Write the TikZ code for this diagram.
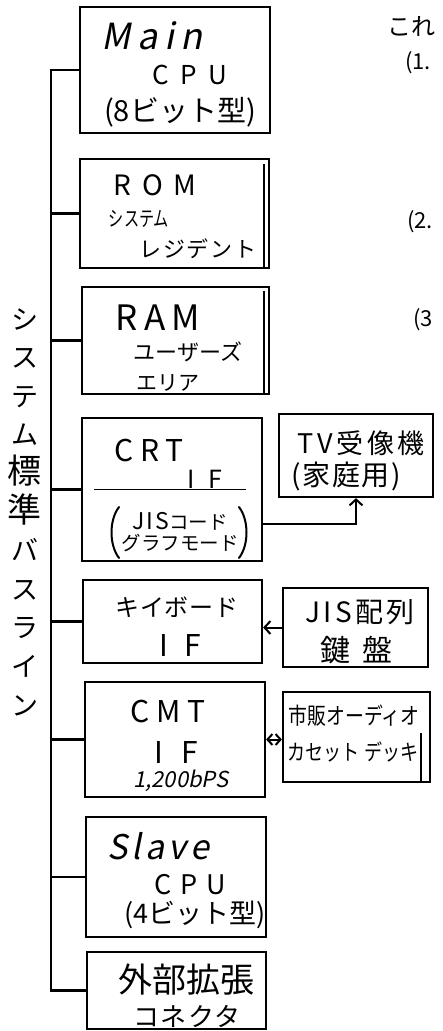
\documentclass[tikz,border=0pt]{standalone}
\usepackage{fontspec}
\setmainfont{Noto Sans CJK JP}
\newfontfamily\slnt[FakeSlant=0.2]{Noto Sans CJK JP}
\newfontfamily\jpnarrowA[FakeStretch=0.82]{Noto Sans CJK JP}
\newfontfamily\jpnarrowB[FakeStretch=0.72]{Noto Sans CJK JP}
\usetikzlibrary{arrows.meta}
\newcommand\fsz[1]{\fontsize{#1}{#1}\selectfont}
\newcommand\lsp[1]{\addfontfeature{LetterSpace=#1}}
\newcommand\mkbox[5]{\node[box, minimum width={(#4-#2)*1pt}, minimum height={(#5-#3)*1pt}] (#1) at ({(#2+#4)/2},{(#3+#5)/2}) {};}
\tikzset{
  box/.style={draw, line width=2.2pt, inner sep=0pt, rectangle},
  txt/.style={inner sep=0pt, anchor=center},
  wire/.style={line width=2.2pt, line join=miter},
  paren/.style={line width=2pt, line cap=round},
  arr/.style={line width=2pt, -{Straight Barb[length=6pt,width=13pt,line width=2pt]}},
  darr/.style={line width=2pt, {Straight Barb[length=5pt,width=11pt,line width=2pt]}-{Straight Barb[length=5pt,width=11pt,line width=2pt]}},
}
\begin{document}
\begin{tikzpicture}[x=1pt,y=-1pt]
\useasboundingbox (0,0) rectangle (443,1031);
% boxes
\mkbox{main}{80}{7}{270}{133}
\mkbox{rom}{80}{159}{269}{268}
\mkbox{ram}{82}{287}{269}{394}
\mkbox{crt}{82}{418}{262}{561}
\mkbox{tv}{279}{414}{433}{497}
\mkbox{kb}{83}{580}{262}{663}
\mkbox{jis}{283}{588}{428}{667}
\mkbox{cmt}{85}{682}{265}{797}
\mkbox{cas}{283}{692}{430}{782}
\mkbox{slave}{86}{817}{266}{937}
\mkbox{ext}{87}{952}{266}{1029}
% double right edges
\draw[line width=1.8pt] ([xshift=-6pt,yshift=-6pt]rom.north east) -- ([xshift=-6pt]rom.south east);
\draw[line width=1.8pt] ([xshift=-6pt,yshift=-5pt]ram.north east) -- ([xshift=-6pt]ram.south east);
\draw[line width=1.8pt] ([xshift=-10pt,yshift=-42pt]cas.north east) -- ([xshift=-10pt]cas.south east);
% CRT divider
\draw[line width=1.8pt] ([xshift=13pt]crt.west) -- ([xshift=-17pt]crt.east);
% bus
\coordinate (bus) at (51,0);
\draw[wire] (main.west) -| (bus |- ext.west) -- (ext.west);
\foreach \b in {rom,ram,crt,kb,cmt,slave}{\draw[wire] (\b.west) -- (\b.west -| bus);}
% connectors
\draw[arr] ([yshift=-34.5pt]crt.east) -| (tv.south);
\draw[arr] (jis.west) -- (jis.west -| kb.east);
\draw[darr] (cmt.east) -- (cmt.east -| cas.west);
% texts
\node[txt, font={\slnt\fsz{36}\lsp{18}}] (t1) at (152,36) {Main};
\node[txt, font={\fsz{26}\lsp{45}}] (t2) at (190,75) {CPU};
\node[txt, font={\fsz{29}}] (t3) at (180,112) {(8ビット型)};
\node[txt, font={\fsz{28}\lsp{38}}] (t4) at (155,185) {ROM};
\node[txt, font={\jpnarrowB\fsz{21}}] (t5) at (139,219) {システム};
\node[txt, font={\fsz{22}\lsp{8}}] (t6) at (198,249) {レジデント};
\node[txt, font={\fsz{35}\lsp{18}}] (t7) at (158,318) {RAM};
\node[txt, font={\fsz{22}}] (t8) at (188,352) {ユーザーズ};
\node[txt, font={\fsz{21}}] (t9) at (168,383) {エリア};
\node[txt, font={\fsz{30}\lsp{22}}] (t10) at (149,450) {CRT};
\node[txt, font={\fsz{25}}] (t11) at (205,479) {I\hspace{14pt}F};
\node[txt, font={\fsz{19.5}}, align=center] (t12) at (180,532) {{\fsz{23}\lsp{10}JIS}コード\\[2pt]グラフモード};
\draw[paren] (119,507) .. controls (109,520) and (109,545) .. (119,558);
\draw[paren] (239,507) .. controls (249,520) and (249,545) .. (239,558);
\node[txt, font={\fsz{27}\lsp{14}}] (t13) at (361,443) {TV受像機};
\node[txt, font={\fsz{28}\lsp{6}}] (t14) at (346,476) {(家庭用)};
\node[txt, font={\fsz{24}\lsp{4}}] (t15) at (177,607) {キイボード};
\node[txt, font={\fsz{30}}] (t16) at (180,645) {I\hspace{16pt}F};
\node[txt, font={\fsz{28}\lsp{12}}] (t17) at (360,612) {JIS配列};
\node[txt, font={\fsz{30}\lsp{40}}] (t18) at (356,650) {鍵盤};
\node[txt, font={\fsz{30}\lsp{22}}] (t19) at (168,711) {CMT};
\node[txt, font={\fsz{30}}] (t20) at (176,752) {I\hspace{18pt}F};
\node[txt, font={\slnt\fsz{22}}] (t21) at (181,781) {1,200bPS};
\node[txt, font={\jpnarrowA\fsz{23}}] (t22) at (354,716) {市販オーディオ};
\node[txt, font={\jpnarrowA\fsz{22}}] (t23) at (353,752) {カセット デッキ};
\node[txt, font={\slnt\fsz{34}\lsp{12}}] (t24) at (158,846) {Slave};
\node[txt, font={\fsz{27}\lsp{32}}] (t25) at (190,885) {CPU};
\node[txt, font={\fsz{27}}] (t26) at (195,915) {(4ビット型)};
\node[txt, font={\fsz{34}}] (t27) at (186,980) {外部拡張};
\node[txt, font={\fsz{26}\lsp{5}}] (t28) at (187,1016) {コネクタ};
% vertical bus label
\node[txt, font={\fontsize{27}{38.6}\selectfont}, align=center] (vt) at (25,512)
  {シ\\ス\\テ\\ム\\{\fsz{34}標}\\{\fsz{34}準}\\バ\\ス\\ラ\\イ\\ン};
% right margin text (cut off)
\node[font={\fsz{24}}, inner sep=0pt, anchor=west] (r0) at (387,26) {これ};
\node[font={\fsz{22}}, inner sep=0pt, anchor=west] (r1) at (405,63) {(1.};
\node[font={\fsz{22}}, inner sep=0pt, anchor=west] (r2) at (407,222) {(2.};
\node[font={\fsz{22}}, inner sep=0pt, anchor=west] (r3) at (413,320) {(3};
\end{tikzpicture}
\end{document}
